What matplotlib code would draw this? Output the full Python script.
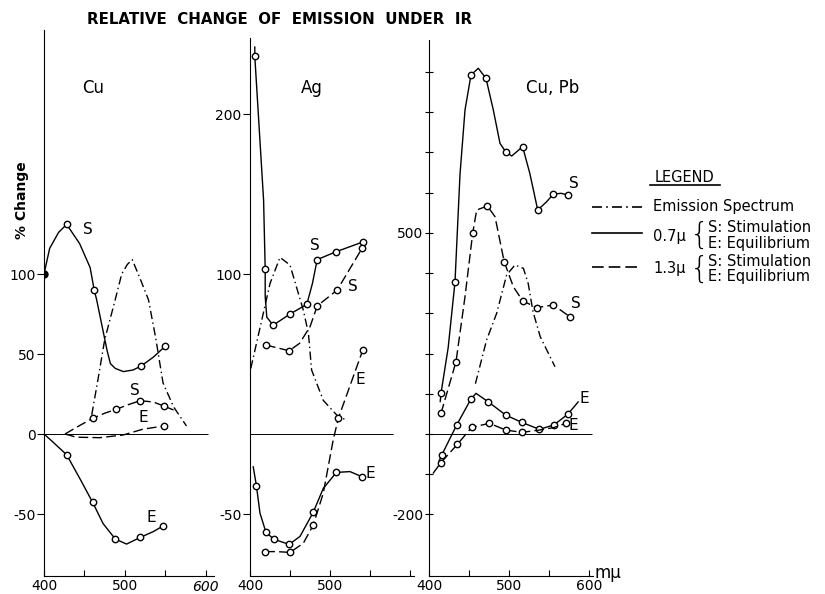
import matplotlib
matplotlib.use("Agg")
import matplotlib.pyplot as plt
from matplotlib.lines import Line2D

plt.rcParams['font.family'] = ['DejaVu Sans']

W, H = 825, 594

# ---- Cu panel ----
cu_s07_x = [400, 407, 418, 428, 444, 457, 462, 465, 478, 482, 488, 498, 510, 520, 535, 550]
cu_s07_y = [100, 116, 126, 131, 119, 104, 90, 84, 52, 44, 41, 39, 40, 42.5, 48, 55]
cu_s07_m = [3, 6, 13, 15]
cu_e07_x = [400, 411, 428, 444, 460, 473, 488, 502, 519, 535, 547]
cu_e07_y = [0, -5, -13, -27.6, -42.6, -56, -65.6, -68.8, -64.6, -61, -57.5]
cu_e07_m = [2, 4, 6, 8, 10]
cu_s13_x = [426, 443, 460, 475, 489, 505, 519, 535, 548, 560]
cu_s13_y = [0, 5, 9.8, 13, 15.4, 18.5, 20.8, 20, 17.5, 15]
cu_s13_m = [2, 4, 6, 8]
cu_e13_x = [426, 440, 469, 498, 522, 548]
cu_e13_y = [0, -2, -2.3, -0.6, 3, 5]
cu_e13_m = [5]
cu_em_x = [459, 467, 475, 488, 496, 503, 509, 518, 529, 538, 547, 560, 576]
cu_em_y = [12, 35, 59, 84, 100, 106, 109, 98, 84, 60, 32, 17, 5]

# ---- Ag panel ----
ag_s07_x = [406, 406, 417, 419, 419, 421, 429, 450, 471, 478, 484, 508, 541]
ag_s07_y = [242, 236, 146, 103, 86, 73, 68, 75, 81, 94, 109, 114, 120]
ag_s07_m = [1, 3, 6, 7, 8, 10, 11, 12]
ag_s13_x = [420, 449, 462, 475, 484, 509, 540]
ag_s13_y = [55.6, 52, 56.7, 67, 80, 90, 116]
ag_s13_m = [0, 1, 4, 5, 6]
ag_e07_x = [404, 408, 412.5, 420, 430, 449, 462.5, 479, 491.6, 508, 525, 540]
ag_e07_y = [-20.4, -32.3, -49.5, -61.5, -65.8, -69, -64, -49, -34, -24, -23.5, -26.7]
ag_e07_m = [1, 3, 4, 5, 7, 9, 11]
ag_e13_x = [419, 433, 450, 466.6, 479, 491.6, 504, 510.4, 541]
ag_e13_y = [-73.5, -73.5, -74, -68.3, -57, -37, -3.75, 9.8, 52.5]
ag_e13_m = [0, 2, 4, 7, 8]
ag_em_x = [401, 416.6, 425, 437.5, 450, 458, 466.6, 473, 477, 491.6, 510.4, 521]
ag_em_y = [41, 75.4, 94, 110.4, 105.6, 92, 77.5, 63, 40, 21, 10.8, 8.75]

# ---- Cu, Pb panel ----
pb_s07_x = [414, 415, 424, 432.5, 438.75, 445, 452.5, 461.6, 471.25, 480.4, 488.75,
            496, 503.4, 517, 526, 535.9, 547, 555.4, 565, 573.4]
pb_s07_y = [80, 101, 215, 378, 645, 805, 892, 908.6, 883.6, 805, 722,
            701, 690.7, 713.8, 647.7, 556.5, 577, 596, 598, 593.8]
pb_s07_m = [1, 3, 6, 8, 11, 13, 15, 17, 19]
pb_s13_x = [415, 433.75, 445, 454.6, 459.6, 472.9, 482.5, 494, 505.4, 517, 534.6, 555.4, 576]
pb_s13_y = [51.4, 179.6, 341, 498.6, 556.5, 566.5, 540, 428, 366, 331, 313.9, 320.5, 291.5]
pb_s13_m = [0, 1, 3, 5, 7, 9, 10, 11, 12]
pb_e07_x = [412, 416, 434.6, 452.5, 458.75, 474, 495.9, 515.9, 537.9, 556, 573.4, 586.6]
pb_e07_y = [-70, -52, 22.4, 87, 101, 80, 47, 29, 11.6, 22.4, 48.9, 80]
pb_e07_m = [1, 2, 3, 5, 6, 7, 8, 9, 10]
pb_e13_x = [405, 415, 435.4, 453.4, 475.4, 495.9, 515.9, 538.75, 556, 571]
pb_e13_y = [-98, -71, -25.7, 16.6, 26.5, 10, 4, 10, 16, 26.5]
pb_e13_m = [1, 2, 3, 4, 5, 6, 9]
pb_em_x = [458, 472, 484.6, 497, 507.5, 518, 524, 530, 539, 557.5]
pb_em_y = [125, 233.5, 300, 395, 420, 411.6, 374, 304, 242, 167]

SOLID = '-'
DASH = (0, (7, 3))
DASHDOT = (0, (6, 2.5, 1, 2.5))


def box(l, t, r, b):
    return [l / W, 1 - b / H, (r - l) / W, (b - t) / H]


def fx(px):
    return px / W


def fy(py):
    return 1 - py / H


def curve(ax, xs, ys, marks, ls, filled=()):
    ax.plot(xs, ys, color='black', lw=1.0, linestyle=ls, solid_capstyle='round')
    mx = [xs[i] for i in marks]
    my = [ys[i] for i in marks]
    ax.plot(mx, my, linestyle='none', marker='o', ms=4.6, mfc='white', mec='black', mew=1.0)
    for i in filled:
        ax.plot(xs[i], ys[i], marker='o', ms=5, color='black')


def setup(ax, xmax, ylim, zero_end):
    ax.set_xlim(400, xmax)
    ax.set_ylim(*ylim)
    for s in ['top', 'right']:
        ax.spines[s].set_visible(False)
    for s in ['left', 'bottom']:
        ax.spines[s].set_linewidth(0.8)
    ax.patch.set_alpha(0)
    ax.hlines(0, 400, zero_end, color='black', lw=0.7)
    ax.tick_params(axis='x', direction='in', length=4, width=0.8, pad=2, labelsize=10)
    ax.tick_params(axis='y', direction='out', length=5, width=0.8, pad=1, labelsize=10)


fig = plt.figure(figsize=(8.25, 5.94), dpi=100)

# Cu
ax1 = fig.add_axes(box(44, 30, 214, 576))
setup(ax1, 610, (-88.75, 252.5), 603)
ax1.set_xticks([400, 450, 500, 550, 600])
ax1.set_xticklabels(['400', '', '500', '', ''])
ax1.set_yticks([-50, 0, 50, 100])
ax1.set_yticklabels(['-50', '0', '50', '100'])
ax1.text(600, -91, '600', ha='center', va='top', fontsize=10, style='italic')
curve(ax1, cu_em_x, cu_em_y, [], DASHDOT)
curve(ax1, cu_s07_x, cu_s07_y, cu_s07_m, SOLID, filled=[0])
curve(ax1, cu_e07_x, cu_e07_y, cu_e07_m, SOLID)
curve(ax1, cu_s13_x, cu_s13_y, cu_s13_m, DASH)
curve(ax1, cu_e13_x, cu_e13_y, cu_e13_m, DASH)
ax1.text(448, 128, 'S', fontsize=11, va='center')
ax1.text(506, 27, 'S', fontsize=11, va='center')
ax1.text(517, 10, 'E', fontsize=11, va='center')
ax1.text(526, -52, 'E', fontsize=11, va='center')

# Ag
ax2 = fig.add_axes(box(250, 38, 414, 576))
setup(ax2, 605, (-88.75, 247.5), 579)
ax2.set_xticks([400, 450, 500, 550, 600])
ax2.set_xticklabels(['400', '', '500', '', ''])
ax2.set_yticks([-50, 100, 200])
ax2.set_yticklabels(['-50', '100', '200'])
curve(ax2, ag_em_x, ag_em_y, [], DASHDOT)
curve(ax2, ag_s07_x, ag_s07_y, ag_s07_m, SOLID)
curve(ax2, ag_s13_x, ag_s13_y, ag_s13_m, DASH)
curve(ax2, ag_e07_x, ag_e07_y, ag_e07_m, SOLID)
curve(ax2, ag_e13_x, ag_e13_y, ag_e13_m, DASH)
ax2.text(475, 118, 'S', fontsize=11, va='center')
ax2.text(523, 92, 'S', fontsize=11, va='center')
ax2.text(532, 34, 'E', fontsize=11, va='center')
ax2.text(544, -25, 'E', fontsize=11, va='center')

# Cu, Pb
ax3 = fig.add_axes(box(429, 40, 593, 576))
setup(ax3, 605, (-352.8, 978.9), 604)
ax3.set_xticks([400, 450, 500, 550, 600])
ax3.set_xticklabels(['400', '', '500', '', '600'])
pb_yticks = list(range(-200, 1000, 100))
ax3.set_yticks(pb_yticks)
ax3.set_yticklabels(['-200' if v == -200 else '500' if v == 500 else '' for v in pb_yticks])
ax3.tick_params(axis='y', direction='inout', length=6)
curve(ax3, pb_em_x, pb_em_y, [], DASHDOT)
curve(ax3, pb_s07_x, pb_s07_y, pb_s07_m, SOLID)
curve(ax3, pb_s13_x, pb_s13_y, pb_s13_m, DASH)
curve(ax3, pb_e07_x, pb_e07_y, pb_e07_m, SOLID)
curve(ax3, pb_e13_x, pb_e13_y, pb_e13_m, DASH)
ax3.text(575, 623, 'S', fontsize=11, va='center')
ax3.text(578, 325, 'S', fontsize=11, va='center')
ax3.text(588, 89, 'E', fontsize=11, va='center')
ax3.text(575, 22, 'E', fontsize=11, va='center')
ax3.text(607, -345, 'm\u00b5', fontsize=12, ha='left', va='center', clip_on=False)

# panel names
fig.text(fx(93), fy(88), 'Cu', ha='center', va='center', fontsize=12)
fig.text(fx(312), fy(88), 'Ag', ha='center', va='center', fontsize=12)
fig.text(fx(553), fy(88), 'Cu, Pb', ha='center', va='center', fontsize=12)

# title and y label
fig.text(fx(280), fy(20), 'RELATIVE  CHANGE  OF  EMISSION  UNDER  IR',
         ha='center', va='center', fontsize=10.8, fontweight='bold')
fig.text(fx(22), fy(200), '% Change', rotation=90, ha='center', va='center',
         fontsize=10, fontweight='bold')

# legend
fig.text(fx(685), fy(177), 'LEGEND', ha='center', va='center', fontsize=10.5)
fig.add_artist(Line2D([fx(650), fx(720)], [fy(185), fy(185)], color='black', lw=1.2))
rows = [(207, DASHDOT), (233, SOLID), (267, DASH)]
for py, ls in rows:
    fig.add_artist(Line2D([fx(592), fx(642)], [fy(py), fy(py)], color='black', lw=1.2, linestyle=ls))
fig.text(fx(653), fy(207), 'Emission Spectrum', ha='left', va='center', fontsize=10.5)
fig.text(fx(653), fy(237), '0.7\u00b5', ha='left', va='center', fontsize=10.5)
fig.text(fx(653), fy(269), '1.3\u00b5', ha='left', va='center', fontsize=10.5)
fig.text(fx(700), fy(235), '{', ha='center', va='center', fontsize=22, fontweight='light')
fig.text(fx(700), fy(269), '{', ha='center', va='center', fontsize=22, fontweight='light')
fig.text(fx(708), fy(227), 'S: Stimulation', ha='left', va='center', fontsize=10.5)
fig.text(fx(708), fy(243), 'E: Equilibrium', ha='left', va='center', fontsize=10.5)
fig.text(fx(708), fy(261), 'S: Stimulation', ha='left', va='center', fontsize=10.5)
fig.text(fx(708), fy(277), 'E: Equilibrium', ha='left', va='center', fontsize=10.5)

fig.savefig('out.png', dpi=100)
